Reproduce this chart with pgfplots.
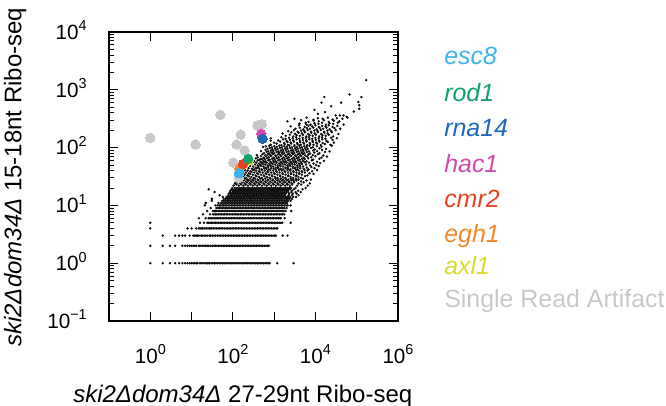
\documentclass[border=0pt]{standalone}
\usepackage{fontspec}
\setmainfont{Liberation Sans}
\usepackage{pgfplots}
\pgfplotsset{compat=1.18}

\definecolor{cEsc}{RGB}{60,180,230}
\definecolor{cRod}{RGB}{20,160,105}
\definecolor{cRna}{RGB}{30,105,185}
\definecolor{cHac}{RGB}{210,75,170}
\definecolor{cCmr}{RGB}{232,65,35}
\definecolor{cEgh}{RGB}{242,135,40}
\definecolor{cAxl}{RGB}{218,218,45}
\definecolor{cArt}{RGB}{200,200,200}

\newcommand\tickfont{\fontsize{15.5}{16}\selectfont}
\newcommand\labfont{\fontsize{18}{20}\selectfont}
\newcommand\legfont{\fontsize{18.7}{20}\selectfont}
\newcommand\tp[1]{10\raisebox{6.4pt}{\fontsize{10.8}{12}\selectfont #1}}

\pgfplotsset{
  dot/.style={only marks, mark=*, mark size=0.7pt, color=black!95, forget plot},
  hit/.style={only marks, mark=*, mark size=3.5pt, color=#1, mark options={draw=#1, fill=#1, line width=0pt}},
}

\begin{document}
\begin{tikzpicture}
\begin{axis}[
  at={(0,0)}, anchor=south west,
  scale only axis, width=216.75pt, height=216.75pt,
  xmode=log, ymode=log,
  xmin=0.1, xmax=1e6, ymin=0.1, ymax=1e4,
  clip=false,
  axis line style={line width=0.9pt},
  every tick/.style={black, line width=0.7pt},
  major tick length=6.5pt, minor tick length=3.8pt,
  xtick={0.1,1,10,100,1000,10000,100000,1000000},
  xticklabels={,\tp{0},,\tp{2},,\tp{4},,\tp{6}},
  xminorticks=false,
  ytick={0.1,1,10,100,1000,10000},
  yticklabels={\tp{−1},\tp{0},\tp{1},\tp{2},\tp{3},\tp{4}},
  minor ytick={0.2,0.3,0.4,0.5,0.6,0.7,0.8,0.9,2,3,4,5,6,7,8,9,20,30,40,50,60,70,80,90,200,300,400,500,600,700,800,900,2000,3000,4000,5000,6000,7000,8000,9000},
  tick label style={font=\tickfont},
  xticklabel style={anchor=base, inner sep=0pt, yshift=-31.5pt},
  yticklabel style={anchor=base east, inner sep=0pt, xshift=-16.5pt, yshift=-5.55pt},
  xlabel={\textit{ski2Δdom34Δ} 27-29nt Ribo-seq},
  xlabel style={at={(axis description cs:-0.1246,-0.2803)}, anchor=base west, inner sep=0pt, font=\labfont},
  ylabel={\textit{ski2Δdom34Δ} 15-18nt Ribo-seq},
  ylabel style={at={(axis description cs:-0.303,-0.09)}, anchor=base west, inner sep=0pt, font=\labfont},
]
% counts rows y = 1 ... 10
\addplot[dot] coordinates {(1,1)(2,1)(3,1)(4,1)(5,1)(6,1)(7,1)(8,1)(9,1)(10,1)(11,1)(12,1)(13,1)(14,1)(16,1)(17,1)(19,1)(21,1)(23,1)(25,1)(27,1)(30,1)(33,1)(36,1)(39,1)(43,1)(47,1)(51,1)(56,1)(61,1)(67,1)(73,1)(80,1)(87,1)(95,1)(104,1)(113,1)(124,1)(135,1)(148,1)(161,1)(176,1)(193,1)(210,1)(230,1)(251,1)(274,1)(300,1)(327,1)(357,1)(390,1)(426,1)(466,1)(509,1)(556,1)(607,1)(663,1)(724,1)(780,1)(1190,1)(2950,1)};
\addplot[dot] coordinates {(1,2)(2,2)(3,2)(4,2)(6,2)(7,2)(8,2)(9,2)(10,2)(11,2)(12,2)(13,2)(15,2)(16,2)(18,2)(20,2)(22,2)(24,2)(26,2)(29,2)(32,2)(35,2)(38,2)(41,2)(45,2)(49,2)(54,2)(59,2)(64,2)(70,2)(77,2)(84,2)(92,2)(100,2)(109,2)(119,2)(130,2)(142,2)(155,2)(170,2)(185,2)(202,2)(221,2)(241,2)(263,2)(287,2)(314,2)(343,2)(374,2)(409,2)(446,2)(488,2)(533,2)(582,2)(636,2)(695,2)(740,2)};
\addplot[dot] coordinates {(2,3)(4,3)(5,3)(6,3)(7,3)(9,3)(11,3)(12,3)(13,3)(14,3)(15,3)(17,3)(18,3)(20,3)(22,3)(24,3)(27,3)(29,3)(32,3)(35,3)(38,3)(42,3)(46,3)(50,3)(55,3)(60,3)(66,3)(72,3)(79,3)(86,3)(94,3)(103,3)(112,3)(123,3)(134,3)(147,3)(160,3)(175,3)(191,3)(209,3)(228,3)(249,3)(272,3)(297,3)(325,3)(355,3)(388,3)(424,3)(463,3)(506,3)(553,3)(604,3)(660,3)(721,3)(788,3)(861,3)(941,3)(1030,3)(1100,3)(1600,3)(2100,3)};
\addplot[dot] coordinates {(1,4)(8,4)(10,4)(13,4)(15,4)(16,4)(17,4)(18,4)(19,4)(21,4)(23,4)(25,4)(27,4)(29,4)(31,4)(34,4)(37,4)(40,4)(44,4)(48,4)(52,4)(57,4)(62,4)(68,4)(74,4)(81,4)(88,4)(96,4)(105,4)(115,4)(125,4)(137,4)(149,4)(163,4)(178,4)(194,4)(212,4)(232,4)(253,4)(276,4)(302,4)(329,4)(360,4)(393,4)(429,4)(468,4)(511,4)(558,4)(610,4)(666,4)(727,4)(794,4)(867,4)(947,4)(1035,4)(1130,4)(1200,4)};
\addplot[dot] coordinates {(1,5)(16,5)(20,5)(24,5)(26,5)(28,5)(30,5)(32,5)(35,5)(38,5)(41,5)(45,5)(49,5)(53,5)(58,5)(63,5)(69,5)(75,5)(82,5)(89,5)(97,5)(106,5)(116,5)(126,5)(138,5)(150,5)(164,5)(179,5)(195,5)(213,5)(232,5)(253,5)(276,5)(301,5)(329,5)(358,5)(391,5)(427,5)(466,5)(508,5)(554,5)(605,5)(660,5)(720,5)(786,5)(858,5)(936,5)(1021,5)(1115,5)(1217,5)(1328,5)(1450,5)(1580,5)(2500,5)};
\addplot[dot] coordinates {(15,6)(22,6)(26,6)(28,6)(30,6)(33,6)(36,6)(39,6)(42,6)(46,6)(50,6)(55,6)(60,6)(65,6)(71,6)(78,6)(85,6)(93,6)(101,6)(110,6)(120,6)(131,6)(143,6)(156,6)(171,6)(186,6)(203,6)(222,6)(242,6)(264,6)(288,6)(315,6)(343,6)(375,6)(409,6)(446,6)(487,6)(532,6)(580,6)(633,6)(691,6)(754,6)(823,6)(898,6)(980,6)(1070,6)(1168,6)(1275,6)(1390,6)(1450,6)(1800,6)};
\addplot[dot] coordinates {(19,7)(28,7)(33,7)(35,7)(38,7)(41,7)(45,7)(49,7)(53,7)(58,7)(63,7)(69,7)(75,7)(82,7)(90,7)(98,7)(107,7)(117,7)(127,7)(139,7)(152,7)(166,7)(181,7)(197,7)(215,7)(235,7)(256,7)(280,7)(305,7)(333,7)(364,7)(397,7)(433,7)(473,7)(516,7)(563,7)(614,7)(670,7)(731,7)(798,7)(871,7)(950,7)(1037,7)(1132,7)(1235,7)(1348,7)(1471,7)(1605,7)(1750,7)};
\addplot[dot] coordinates {(24,8)(33,8)(36,8)(38,8)(41,8)(44,8)(48,8)(52,8)(57,8)(62,8)(68,8)(74,8)(81,8)(88,8)(96,8)(105,8)(114,8)(125,8)(136,8)(149,8)(162,8)(177,8)(193,8)(211,8)(230,8)(251,8)(274,8)(299,8)(326,8)(356,8)(388,8)(424,8)(462,8)(505,8)(551,8)(601,8)(656,8)(716,8)(781,8)(852,8)(930,8)(1015,8)(1107,8)(1208,8)(1319,8)(1439,8)(1570,8)(1713,8)(1900,8)(2600,8)};
\addplot[dot] coordinates {(29,9)(40,9)(44,9)(48,9)(52,9)(56,9)(61,9)(66,9)(72,9)(78,9)(85,9)(93,9)(101,9)(110,9)(120,9)(131,9)(143,9)(156,9)(170,9)(185,9)(202,9)(220,9)(240,9)(262,9)(286,9)(312,9)(340,9)(371,9)(405,9)(442,9)(482,9)(526,9)(574,9)(626,9)(683,9)(745,9)(813,9)(887,9)(968,9)(1056,9)(1152,9)(1257,9)(1371,9)(1496,9)(1632,9)(1780,9)(2000,9)};
\addplot[dot] coordinates {(21,10)(38,10)(43,10)(47,10)(51,10)(55,10)(60,10)(65,10)(71,10)(77,10)(84,10)(92,10)(100,10)(109,10)(119,10)(130,10)(142,10)(155,10)(169,10)(184,10)(201,10)(219,10)(239,10)(261,10)(285,10)(311,10)(339,10)(370,10)(404,10)(441,10)(481,10)(525,10)(573,10)(625,10)(682,10)(744,10)(812,10)(886,10)(967,10)(1055,10)(1151,10)(1256,10)(1370,10)(1495,10)(1631,10)(1780,10)(1942,10)(2119,10)(2500,10)};
% rows y = 11 ... 20
\addplot[dot] coordinates {(22,11)(45,11)(52,11)(58,11)(64,11)(70,11)(77,11)(85,11)(93,11)(102,11)(112,11)(123,11)(135,11)(148,11)(163,11)(179,11)(197,11)(216,11)(237,11)(261,11)(286,11)(314,11)(345,11)(379,11)(416,11)(457,11)(502,11)(551,11)(605,11)(665,11)(730,11)(802,11)(880,11)(967,11)(1062,11)(1166,11)(1280,11)(1406,11)(1545,11)(1697,11)(1864,11)(2050,11)};
\addplot[dot] coordinates {(31,12)(55,12)(61,12)(67,12)(74,12)(81,12)(89,12)(98,12)(108,12)(118,12)(130,12)(143,12)(157,12)(172,12)(189,12)(208,12)(228,12)(251,12)(275,12)(302,12)(332,12)(365,12)(401,12)(440,12)(483,12)(531,12)(583,12)(640,12)(703,12)(772,12)(848,12)(931,12)(1023,12)(1123,12)(1234,12)(1355,12)(1488,12)(1635,12)(1796,12)(1972,12)(2166,12)(2500,12)};
\addplot[dot] coordinates {(31,13)(60,13)(66,13)(73,13)(80,13)(88,13)(97,13)(106,13)(117,13)(128,13)(141,13)(155,13)(170,13)(187,13)(205,13)(226,13)(248,13)(272,13)(299,13)(328,13)(361,13)(396,13)(435,13)(478,13)(525,13)(577,13)(633,13)(696,13)(764,13)(839,13)(922,13)(1012,13)(1112,13)(1221,13)(1341,13)(1473,13)(1618,13)(1777,13)(1952,13)(2144,13)(2355,13)(2700,13)};
\addplot[dot] coordinates {(57,14)(70,14)(77,14)(84,14)(93,14)(102,14)(112,14)(123,14)(135,14)(148,14)(163,14)(179,14)(196,14)(216,14)(237,14)(260,14)(286,14)(314,14)(345,14)(379,14)(416,14)(457,14)(502,14)(551,14)(605,14)(665,14)(730,14)(802,14)(880,14)(967,14)(1062,14)(1166,14)(1280,14)(1406,14)(1545,14)(1697,14)(1864,14)(2047,14)(2248,14)(2469,14)(2900,14)(3400,14)};
\addplot[dot] coordinates {(48,15)(78,15)(88,15)(97,15)(110,15)(121,15)(136,15)(150,15)(168,15)(183,15)(205,15)(224,15)(250,15)(273,15)(305,15)(333,15)(372,15)(406,15)(454,15)(496,15)(554,15)(605,15)(676,15)(738,15)(825,15)(901,15)(1006,15)(1100,15)(1228,15)(1342,15)(1500,15)(1640,15)(1830,15)(2230,15)(2720,15)(3900,15)};
\addplot[dot] coordinates {(80,16)(92,16)(104,16)(113,16)(127,16)(141,16)(155,16)(172,16)(190,16)(211,16)(232,16)(257,16)(284,16)(314,16)(347,16)(384,16)(424,16)(469,16)(518,16)(572,16)(633,16)(699,16)(773,16)(854,16)(944,16)(1043,16)(1153,16)(1274,16)(1408,16)(1556,16)(1720,16)(1900,16)(2320,16)(2850,16)(3500,16)};
\addplot[dot] coordinates {(36,17)(85,17)(98,17)(109,17)(121,17)(134,17)(149,17)(165,17)(183,17)(203,17)(225,17)(250,17)(277,17)(307,17)(340,17)(377,17)(418,17)(464,17)(514,17)(570,17)(632,17)(700,17)(776,17)(861,17)(954,17)(1058,17)(1173,17)(1300,17)(1441,17)(1598,17)(1771,17)(1963,17)(2176,17)(2600,17)(3300,17)(4400,17)};
\addplot[dot] coordinates {(88,18)(102,18)(114,18)(127,18)(141,18)(157,18)(174,18)(193,18)(215,18)(238,18)(265,18)(294,18)(327,18)(363,18)(403,18)(448,18)(497,18)(552,18)(613,18)(681,18)(756,18)(840,18)(933,18)(1036,18)(1150,18)(1277,18)(1418,18)(1575,18)(1749,18)(1943,18)(2158,18)(2700,18)(3800,18)};
\addplot[dot] coordinates {(26,19)(93,19)(108,19)(121,19)(135,19)(150,19)(167,19)(186,19)(207,19)(230,19)(256,19)(285,19)(317,19)(352,19)(392,19)(436,19)(485,19)(539,19)(600,19)(667,19)(742,19)(825,19)(918,19)(1021,19)(1136,19)(1263,19)(1405,19)(1563,19)(1738,19)(1934,19)(2151,19)(2392,19)(3000,19)(4900,19)};
\addplot[dot] coordinates {(97,20)(113,20)(126,20)(141,20)(157,20)(175,20)(195,20)(217,20)(242,20)(269,20)(300,20)(334,20)(372,20)(414,20)(461,20)(513,20)(571,20)(636,20)(708,20)(788,20)(877,20)(977,20)(1088,20)(1211,20)(1348,20)(1501,20)(1671,20)(1860,20)(2071,20)(2305,20)(2566,20)(3300,20)(5800,20)};
% y = 21 ... 40
\addplot[dot] coordinates {(104,22)(122,23)(139,22)(158,23)(180,22)(205,23)(233,22)(265,23)(302,22)(344,23)(391,22)(445,23)(507,22)(577,23)(657,22)(748,23)(851,22)(969,23)(1103,22)(1256,23)(1430,22)(1628,23)(1853,22)(2110,23)(2402,22)(2735,23)(3600,22)(4500,23)(6500,22)};
\addplot[dot] coordinates {(112,24)(131,25)(150,24)(171,25)(195,24)(222,25)(253,24)(289,25)(329,24)(375,25)(427,24)(487,25)(555,24)(632,25)(720,24)(821,25)(935,24)(1066,25)(1214,24)(1384,25)(1577,24)(1797,25)(2048,24)(2334,25)(2660,24)(3031,25)(3900,24)(5200,25)(7300,24)};
\addplot[dot] coordinates {(118,26)(139,27)(160,26)(183,27)(209,26)(239,27)(273,26)(312,27)(357,26)(408,27)(466,26)(533,27)(609,26)(696,27)(795,26)(909,27)(1039,26)(1187,27)(1357,26)(1551,27)(1772,26)(2025,27)(2314,26)(2645,27)(3023,26)(3455,27)(4500,26)(6100,27)};
\addplot[dot] coordinates {(125,28)(147,29)(170,28)(196,29)(226,28)(260,29)(300,28)(346,29)(399,28)(460,29)(530,28)(611,29)(705,28)(813,29)(937,28)(1080,29)(1245,28)(1436,29)(1656,28)(1909,29)(2201,28)(2538,29)(2926,28)(3374,29)(3890,28)(5000,29)(7800,28)};
\addplot[dot] coordinates {(132,30)(156,32)(181,31)(209,30)(242,32)(280,31)(324,30)(375,32)(434,31)(502,30)(581,32)(672,31)(778,30)(900,32)(1041,31)(1205,30)(1394,32)(1613,31)(1866,30)(2159,32)(2498,31)(2890,30)(3344,32)(3869,31)(4477,30)(5600,32)};
\addplot[dot] coordinates {(140,33)(166,35)(193,34)(225,33)(262,35)(305,34)(355,33)(413,35)(481,34)(560,33)(652,35)(759,34)(884,33)(1029,35)(1198,34)(1395,33)(1624,35)(1891,34)(2201,33)(2563,35)(2984,34)(3474,33)(4045,35)(4710,34)(6400,33)(9000,35)};
\addplot[dot] coordinates {(150,36)(178,38)(208,37)(243,36)(284,38)(332,37)(388,36)(454,38)(531,37)(621,36)(726,38)(849,37)(993,36)(1161,38)(1358,37)(1588,36)(1857,38)(2172,37)(2540,36)(2971,38)(3475,37)(4064,36)(4753,38)(5560,37)(7200,36)};
\addplot[dot] coordinates {(163,39)(194,41)(227,40)(266,39)(312,41)(366,40)(429,39)(503,41)(590,40)(692,39)(811,41)(951,40)(1115,39)(1307,41)(1533,40)(1797,39)(2107,41)(2471,40)(2897,39)(3397,41)(3983,40)(4670,39)(5476,41)(6421,40)(8300,39)(11000,41)};
% y = 40 ... 110
\addplot[dot] coordinates {(190,42)(240,44)(290,43)(330,42)(380,44)(440,43)(500,42)(570,44)(650,43)(740,42)(850,44)(970,43)(1100,42)(1260,44)(1440,43)(1650,42)(1890,44)(2160,43)(2470,42)(2830,44)(3240,43)(3700,42)(4300,44)(5200,43)(6800,42)(9500,44)};
\addplot[dot] coordinates {(205,46)(260,48)(310,47)(360,45)(415,46)(480,48)(550,47)(630,45)(720,46)(830,48)(950,47)(1090,45)(1250,46)(1430,48)(1640,47)(1880,45)(2150,46)(2460,48)(2820,47)(3230,45)(3700,46)(4240,48)(5000,47)(6200,45)(8000,46)(12000,48)};
\addplot[dot] coordinates {(225,50)(280,52)(345,51)(400,49)(460,50)(530,52)(610,51)(700,49)(800,50)(920,52)(1060,51)(1210,49)(1390,50)(1600,52)(1830,51)(2100,49)(2400,50)(2760,52)(3160,51)(3620,49)(4150,50)(4760,52)(5900,51)(7500,49)(10500,50)};
\addplot[dot] coordinates {(240,54)(300,56)(370,55)(430,53)(500,54)(575,56)(660,55)(760,53)(870,54)(1000,56)(1150,55)(1320,53)(1510,54)(1740,56)(2000,55)(2290,53)(2630,54)(3020,56)(3460,55)(3970,53)(4550,54)(5500,56)(7000,55)(9000,53)(13000,54)};
\addplot[dot] coordinates {(330,58)(400,60)(470,57)(540,59)(620,58)(720,60)(820,57)(950,59)(1090,58)(1250,60)(1440,57)(1650,59)(1900,58)(2180,60)(2500,57)(2870,59)(3300,58)(3790,60)(4350,57)(5000,59)(6100,58)(8200,60)(11000,57)(16000,59)};
\addplot[dot] coordinates {(270,63)(360,65)(440,62)(510,64)(590,63)(680,65)(780,62)(900,64)(1030,63)(1190,65)(1370,62)(1570,64)(1810,63)(2080,65)(2390,62)(2740,64)(3150,63)(3620,65)(4160,62)(4780,64)(5500,63)(6700,65)(8800,62)(12500,64)};
\addplot[dot] coordinates {(400,68)(480,71)(560,67)(640,70)(740,68)(850,71)(980,67)(1120,70)(1290,68)(1480,71)(1700,67)(1960,70)(2250,68)(2590,71)(2980,67)(3420,70)(3930,68)(4520,71)(5200,67)(6300,70)(7900,68)(10000,71)(14000,67)(19000,70)};
\addplot[dot] coordinates {(380,74)(520,77)(610,73)(700,76)(810,74)(930,77)(1070,73)(1230,76)(1410,74)(1620,77)(1860,73)(2140,76)(2460,74)(2830,77)(3250,73)(3740,76)(4300,74)(4950,77)(5700,73)(6800,76)(8600,74)(11500,77)(15500,73)};
\addplot[dot] coordinates {(570,80)(660,84)(760,79)(870,82)(1000,80)(1150,84)(1320,79)(1520,82)(1750,80)(2010,84)(2310,79)(2660,82)(3060,80)(3520,84)(4050,79)(4660,82)(5360,80)(6200,84)(7400,79)(9400,82)(12500,80)(17000,84)};
\addplot[dot] coordinates {(480,87)(620,91)(720,86)(830,89)(950,87)(1090,91)(1260,86)(1450,89)(1670,87)(1920,91)(2210,86)(2540,89)(2920,87)(3360,91)(3860,86)(4440,89)(5110,87)(5900,91)(7000,86)(8800,89)(11000,87)(14500,91)(22000,86)};
\addplot[dot] coordinates {(690,95)(790,99)(910,93)(1050,97)(1210,95)(1390,99)(1600,93)(1840,97)(2110,95)(2430,99)(2800,93)(3220,97)(3700,95)(4260,99)(4900,93)(5640,97)(6500,95)(7800,99)(9600,93)(12500,97)(18000,95)};
\addplot[dot] coordinates {(540,103)(760,108)(880,101)(1010,106)(1160,103)(1340,108)(1540,101)(1770,106)(2030,103)(2340,108)(2690,101)(3090,106)(3560,103)(4090,108)(4700,101)(5410,106)(6220,103)(7200,108)(8700,101)(10800,106)(14000,103)(25000,108)};
% y = 110 ... 330
\addplot[dot] coordinates {(830,112)(1150,117)(1500,110)(1800,115)(2150,112)(2600,117)(3100,110)(3700,115)(4400,112)(5300,117)(6300,110)(7500,115)(9000,112)(11000,117)(13500,110)(17000,115)(23000,112)};
\addplot[dot] coordinates {(1000,122)(1400,127)(1750,120)(2100,125)(2500,122)(3000,127)(3600,120)(4300,125)(5100,122)(6100,127)(7300,120)(8700,125)(10400,122)(12500,127)(15000,120)(20000,125)(28000,122)};
\addplot[dot] coordinates {(1250,133)(1650,139)(2000,130)(2400,136)(2900,133)(3500,139)(4200,130)(5000,136)(6000,133)(7100,139)(8500,130)(10200,136)(12200,133)(14600,139)(18500,130)(26000,136)};
\addplot[dot] coordinates {(830,145)(1500,151)(1900,142)(2300,148)(2800,145)(3400,151)(4100,142)(4900,148)(5900,145)(7000,151)(8400,142)(10000,148)(12000,145)(14500,151)(17500,142)(24000,148)(33000,145)};
\addplot[dot] coordinates {(1900,160)(2400,167)(2900,156)(3500,164)(4200,160)(5000,167)(6000,156)(7200,164)(8600,160)(10300,167)(12300,156)(14800,164)(17700,160)(21000,167)(27000,156)};
\addplot[dot] coordinates {(1600,176)(2600,184)(3200,172)(3900,180)(4700,176)(5600,184)(6700,172)(8000,180)(9600,176)(11500,184)(13800,172)(16500,180)(19800,176)(25000,184)(36000,172)};
\addplot[dot] coordinates {(2200,193)(3000,201)(3700,188)(4500,197)(5400,193)(6500,201)(7800,188)(9400,197)(11300,193)(13500,201)(16200,188)(19500,197)(24000,193)(31000,201)};
\addplot[dot] coordinates {(3300,212)(4200,221)(5100,207)(6200,217)(7400,212)(8900,221)(10700,207)(12800,217)(15400,212)(18500,221)(22000,207)(29000,217)(40000,212)};
\addplot[dot] coordinates {(2500,233)(4000,243)(5500,228)(6800,238)(8300,233)(10000,243)(12000,228)(14500,238)(17500,233)(21000,243)(26000,228)(34000,238)};
\addplot[dot] coordinates {(4100,258)(5800,270)(7600,250)(9500,264)(11800,258)(14500,270)(18000,250)(22000,264)(27000,258)(35000,270)(48000,250)};
\addplot[dot] coordinates {(2100,285)(4500,298)(6800,278)(9000,292)(12000,285)(16000,298)(21000,278)(28000,292)(38000,285)};
\addplot[dot] coordinates {(3100,315)(6100,330)(9000,305)(11500,322)(15000,315)(20000,330)(26000,305)(33000,322)(45000,315)(60000,330)};
% sparse points
\addplot[dot] coordinates {(11500,385)(17000,410)(31000,360)(39000,360)(48000,360)(57000,340)(16500,750)(67000,830)(130000,750)(110000,615)(115000,540)(115000,470)(170000,1470)(4100,260)(6100,250)(9500,450)(24000,520)(42000,600)(85000,420)(14000,600)(31,13)(22,11)(475,63)(630,105)(830,132)(1300,83)};
% highlighted genes
\addplot[hit=cArt] coordinates {(1,148)(12.5,113)(50,370)(155,168)(123,113)(193,89)(102,55)(390,240)(500,255)(140,30)};
\addplot[hit=cAxl] coordinates {(245,60)};
\addplot[hit=cEgh] coordinates {(145,43)};
\addplot[hit=cCmr] coordinates {(175,52)};
\addplot[hit=cHac] coordinates {(490,173)};
\addplot[hit=cRna] coordinates {(525,142)};
\addplot[hit=cRod] coordinates {(235,64)};
\addplot[hit=cEsc] coordinates {(140,36)};
% gene key
\node[anchor=base west, inner sep=0pt, font=\legfont\itshape, text=cEsc] at (axis description cs:1.1592,0.8858) {esc8};
\node[anchor=base west, inner sep=0pt, font=\legfont\itshape, text=cRod] at (axis description cs:1.1592,0.7588) {rod1};
\node[anchor=base west, inner sep=0pt, font=\legfont\itshape, text=cRna] at (axis description cs:1.1592,0.6377) {rna14};
\node[anchor=base west, inner sep=0pt, font=\legfont\itshape, text=cHac] at (axis description cs:1.1592,0.5131) {hac1};
\node[anchor=base west, inner sep=0pt, font=\legfont\itshape, text=cCmr] at (axis description cs:1.1592,0.3920) {cmr2};
\node[anchor=base west, inner sep=0pt, font=\legfont\itshape, text=cEgh] at (axis description cs:1.1592,0.2709) {egh1};
\node[anchor=base west, inner sep=0pt, font=\legfont\itshape, text=cAxl] at (axis description cs:1.1592,0.1592) {axl1};
\node[anchor=base west, inner sep=0pt, font=\legfont, text=cArt] at (axis description cs:1.1592,0.0484) {Single Read Artifact};
\end{axis}
\pgfresetboundingbox
\useasboundingbox (-81.75pt,-63.75pt) rectangle (417.75pt,240.75pt);
\end{tikzpicture}
\end{document}
